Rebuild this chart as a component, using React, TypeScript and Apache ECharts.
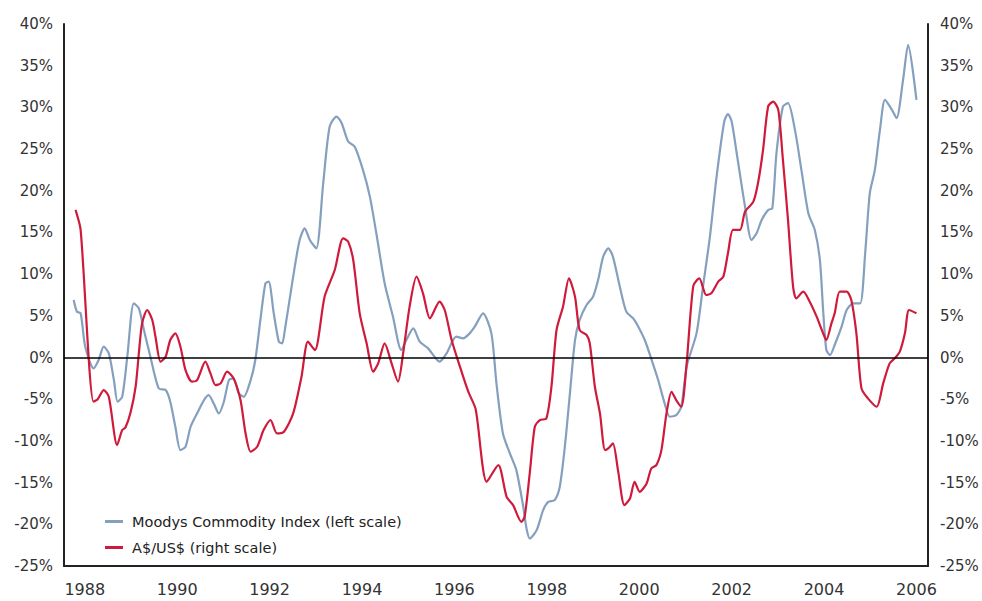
import React, { useEffect, useRef } from "react";
import * as echarts from "echarts";

const xTickYears = [1988, 1990, 1992, 1994, 1996, 1998, 2000, 2002, 2004, 2006];

const commodityName = "Moodys Commodity Index (left scale)";
const fxName = "A$/US$ (right scale)";

const commodityDates = [
  1987.76, 1987.83, 1987.91, 1988.01, 1988.19, 1988.3, 1988.41, 1988.52, 1988.63, 1988.71,
  1988.81, 1988.92, 1989.06, 1989.17, 1989.28, 1989.42, 1989.6, 1989.75, 1989.85, 1989.96,
  1990.07, 1990.18, 1990.29, 1990.43, 1990.58, 1990.68, 1990.79, 1990.9, 1991.01, 1991.12,
  1991.22, 1991.33, 1991.44, 1991.59, 1991.69, 1991.8, 1991.91, 1991.98, 1992.09, 1992.2,
  1992.27, 1992.33, 1992.51, 1992.65, 1992.76, 1992.87, 1993.01, 1993.16, 1993.3, 1993.45,
  1993.56, 1993.7, 1993.84, 1994.02, 1994.17, 1994.31, 1994.49, 1994.67, 1994.85, 1994.96,
  1995.11, 1995.25, 1995.43, 1995.68, 1995.83, 1996.04, 1996.19, 1996.33, 1996.44, 1996.62,
  1996.8, 1996.91, 1997.05, 1997.2, 1997.34, 1997.49, 1997.56, 1997.63, 1997.78, 1997.92,
  1998.03, 1998.17, 1998.28, 1998.39, 1998.5, 1998.61, 1998.71, 1998.86, 1999.0, 1999.11,
  1999.22, 1999.33, 1999.43, 1999.58, 1999.72, 1999.87, 1999.98, 2000.12, 2000.27, 2000.41,
  2000.55, 2000.66, 2000.8, 2000.91, 2001.03, 2001.24, 2001.38, 2001.53, 2001.67, 2001.84,
  2001.92, 2002.0, 2002.11, 2002.29, 2002.43, 2002.54, 2002.65, 2002.79, 2002.88, 2002.97,
  2003.11, 2003.22, 2003.37, 2003.51, 2003.66, 2003.8, 2003.91, 2003.98, 2004.05, 2004.13,
  2004.23, 2004.38, 2004.49, 2004.63, 2004.78, 2004.89, 2004.99, 2005.1, 2005.21, 2005.32,
  2005.47, 2005.57, 2005.71, 2005.82, 2006.0,
];
const commodityValues = [
  6.9, 5.5, 5.3, 1.3, -1.3, -0.3, 1.3, 0.5, -2.7, -5.3,
  -4.7, 0.1, 6.5, 5.9, 3.3, 0.1, -3.7, -3.9, -5.3, -8.3,
  -11.1, -10.7, -8.3, -6.7, -5.1, -4.5, -5.5, -6.7, -5.3, -2.7,
  -2.5, -4.3, -4.7, -2.7, -0.3, 4.5, 8.9, 9.1, 5.3, 1.9,
  1.7, 3.3, 9.7, 14.1, 15.5, 14.1, 13.1, 20.9, 27.7, 28.9,
  28.1, 25.9, 25.3, 22.5, 19.3, 14.9, 8.9, 4.9, 0.9, 2.1,
  3.5, 1.9, 1.1, -0.5, 0.5, 2.5, 2.3, 2.9, 3.7, 5.3,
  2.9, -3.1, -9.1, -11.5, -13.5, -17.9, -20.5, -21.7, -20.7, -18.3,
  -17.3, -17.1, -15.5, -10.7, -4.3, 2.1, 4.5, 6.3, 7.3, 9.3,
  12.1, 13.1, 12.1, 8.5, 5.5, 4.7, 3.7, 2.1, -0.3, -2.7,
  -5.5, -7.1, -6.9, -5.9, -1.0, 2.9, 8.5, 14.5, 21.5, 28.3,
  29.2, 28.3, 24.5, 18.1, 14.1, 14.9, 16.5, 17.7, 17.9, 24.5,
  30.1, 30.5, 27.3, 22.5, 17.3, 15.3, 11.7, 5.7, 0.9, 0.3,
  1.5, 3.7, 5.7, 6.5, 6.5, 12.5, 19.7, 22.5, 27.3, 30.9,
  29.7, 28.7, 33.3, 37.5, 30.9,
];

const fxDates = [
  1987.8, 1987.91, 1988.19, 1988.28, 1988.41, 1988.52, 1988.7, 1988.81, 1988.88, 1988.99,
  1989.1, 1989.17, 1989.24, 1989.35, 1989.46, 1989.53, 1989.64, 1989.75, 1989.85, 1989.96,
  1990.07, 1990.18, 1990.32, 1990.43, 1990.61, 1990.72, 1990.83, 1990.94, 1991.08, 1991.22,
  1991.37, 1991.48, 1991.59, 1991.73, 1991.87, 1992.02, 1992.16, 1992.31, 1992.51, 1992.69,
  1992.83, 1992.98, 1993.19, 1993.41, 1993.59, 1993.7, 1993.81, 1993.95, 1994.1, 1994.24,
  1994.35, 1994.49, 1994.64, 1994.78, 1994.89, 1995.03, 1995.18, 1995.32, 1995.47, 1995.68,
  1995.79, 1995.94, 1996.12, 1996.3, 1996.46, 1996.7, 1996.95, 1997.13, 1997.27,
  1997.45, 1997.52, 1997.63, 1997.74, 1997.85, 1997.99, 1998.1, 1998.21, 1998.35, 1998.48,
  1998.61, 1998.71, 1998.86, 1998.93, 1999.04, 1999.15, 1999.26, 1999.33, 1999.43, 1999.54,
  1999.68, 1999.8, 1999.9, 2000.01, 2000.16, 2000.26, 2000.37, 2000.48, 2000.59, 2000.7,
  2000.8, 2000.91, 2001.02, 2001.17, 2001.3, 2001.45, 2001.56, 2001.71, 2001.82, 2001.92,
  2002.03, 2002.18, 2002.29, 2002.47, 2002.57, 2002.68, 2002.79, 2002.9, 2003.01, 2003.11,
  2003.22, 2003.33, 2003.4, 2003.55, 2003.69, 2003.84, 2003.98, 2004.05, 2004.16, 2004.23,
  2004.34, 2004.49, 2004.59, 2004.7, 2004.81, 2004.95, 2005.14, 2005.28, 2005.42, 2005.53,
  2005.64, 2005.75, 2005.84, 2006.0,
];
const fxValues = [
  17.7, 15.3, -5.3, -5.0, -3.9, -4.7, -10.5, -8.7, -8.4, -6.6,
  -3.5, 0.5, 4.1, 5.7, 4.5, 2.5, -0.5, 0.1, 2.1, 2.9,
  1.3, -1.5, -2.9, -2.7, -0.5, -1.9, -3.3, -3.1, -1.7, -2.5,
  -5.1, -9.1, -11.3, -10.7, -8.7, -7.5, -9.1, -8.9, -6.7, -2.3,
  1.9, 0.9, 7.3, 10.5, 14.3, 13.9, 11.7, 5.3, 1.7, -1.7,
  -0.7, 1.7, -0.7, -2.9, 0.5, 6.1, 9.7, 7.7, 4.7, 6.7,
  5.7, 2.1, -1.1, -4.1, -6.2, -14.9, -12.9, -16.7, -17.7,
  -19.7, -19.1, -13.9, -8.3, -7.5, -7.3, -3.5, 3.3, 6.1, 9.5,
  7.3, 3.3, 2.7, 1.7, -3.5, -6.7, -11.1, -10.9, -10.3, -13.5,
  -17.7, -16.9, -14.9, -16.1, -15.1, -13.3, -12.9, -11.1, -6.7, -4.1,
  -5.1, -5.9, -1.1, 8.6, 9.5, 7.5, 7.7, 9.1, 9.7, 12.5,
  15.3, 15.3, 17.5, 18.7, 20.9, 24.9, 30.1, 30.7, 29.7, 23.7,
  16.5, 8.5, 7.1, 7.9, 6.7, 4.9, 2.9, 2.1, 4.1, 5.3,
  7.9, 7.9, 6.9, 2.9, -3.7, -4.9, -5.9, -3.1, -0.7, -0.1,
  0.7, 2.9, 5.7, 5.3,
];

const FONT = "DejaVu Sans";
const BLUE = "#859fbf";
const RED = "#cf1a3b";

export default function App() {
  const ref = useRef<HTMLDivElement>(null);

  useEffect(() => {
    document.body.style.margin = "0";
    if (!ref.current) return;
    const chart = echarts.init(ref.current, null, { renderer: "svg" });

    const commodityData = commodityDates.map((d, i) => [d, commodityValues[i]]);
    const fxData = fxDates.map((d, i) => [d, fxValues[i]]);

    const yAxisBase = {
      type: "value" as const,
      min: -25,
      max: 40,
      interval: 5,
      axisLine: { show: true, lineStyle: { color: "#222", width: 2 } },
      axisTick: { show: false },
      splitLine: { show: false },
    };

    chart.setOption({
      animation: false,
      backgroundColor: "#ffffff",
      grid: { left: 64, right: 54, top: 24, bottom: 35, containLabel: false },
      legend: {
        orient: "vertical",
        left: 105,
        top: 513,
        padding: 0,
        icon: "rect",
        itemWidth: 18,
        itemHeight: 3,
        itemGap: 9,
        textStyle: {
          fontFamily: FONT,
          fontSize: 14.5,
          color: "#222",
          lineHeight: 17,
          padding: [0, 0, 0, 4],
        },
        data: [commodityName, fxName],
      },
      xAxis: {
        type: "value",
        min: 1987.55,
        max: 2006.25,
        axisLine: { show: true, onZero: false, lineStyle: { color: "#222", width: 2 } },
        axisTick: { show: false },
        splitLine: { show: false },
        axisLabel: {
          customValues: xTickYears,
          formatter: (v: number) => String(Math.round(v)),
          fontFamily: FONT,
          fontSize: 16,
          color: "#333",
          margin: 15,
        },
      },
      yAxis: [
        {
          ...yAxisBase,
          position: "left",
          axisLabel: {
            formatter: "{value}%",
            fontFamily: FONT,
            fontSize: 15,
            color: "#333",
            margin: 11,
          },
        },
        {
          ...yAxisBase,
          position: "right",
          axisLabel: {
            formatter: "{value}%",
            fontFamily: FONT,
            fontSize: 15,
            color: "#333",
            margin: 12,
          },
        },
      ],
      series: [
        {
          name: commodityName,
          type: "line",
          yAxisIndex: 0,
          data: commodityData,
          showSymbol: false,
          smooth: 0.25,
          lineStyle: { color: BLUE, width: 2.2 },
          itemStyle: { color: BLUE },
          z: 3,
          markLine: {
            silent: true,
            symbol: "none",
            label: { show: false },
            lineStyle: { color: "#000", width: 1.5, type: "solid" },
            data: [{ yAxis: 0 }],
          },
        },
        {
          name: fxName,
          type: "line",
          yAxisIndex: 1,
          data: fxData,
          showSymbol: false,
          smooth: 0.25,
          lineStyle: { color: RED, width: 2.2 },
          itemStyle: { color: RED },
          z: 4,
        },
      ],
    });

    return () => chart.dispose();
  }, []);

  return (
    <div
      ref={ref}
      style={{ position: "absolute", left: 0, top: 0, width: 982, height: 601 }}
    />
  );
}
